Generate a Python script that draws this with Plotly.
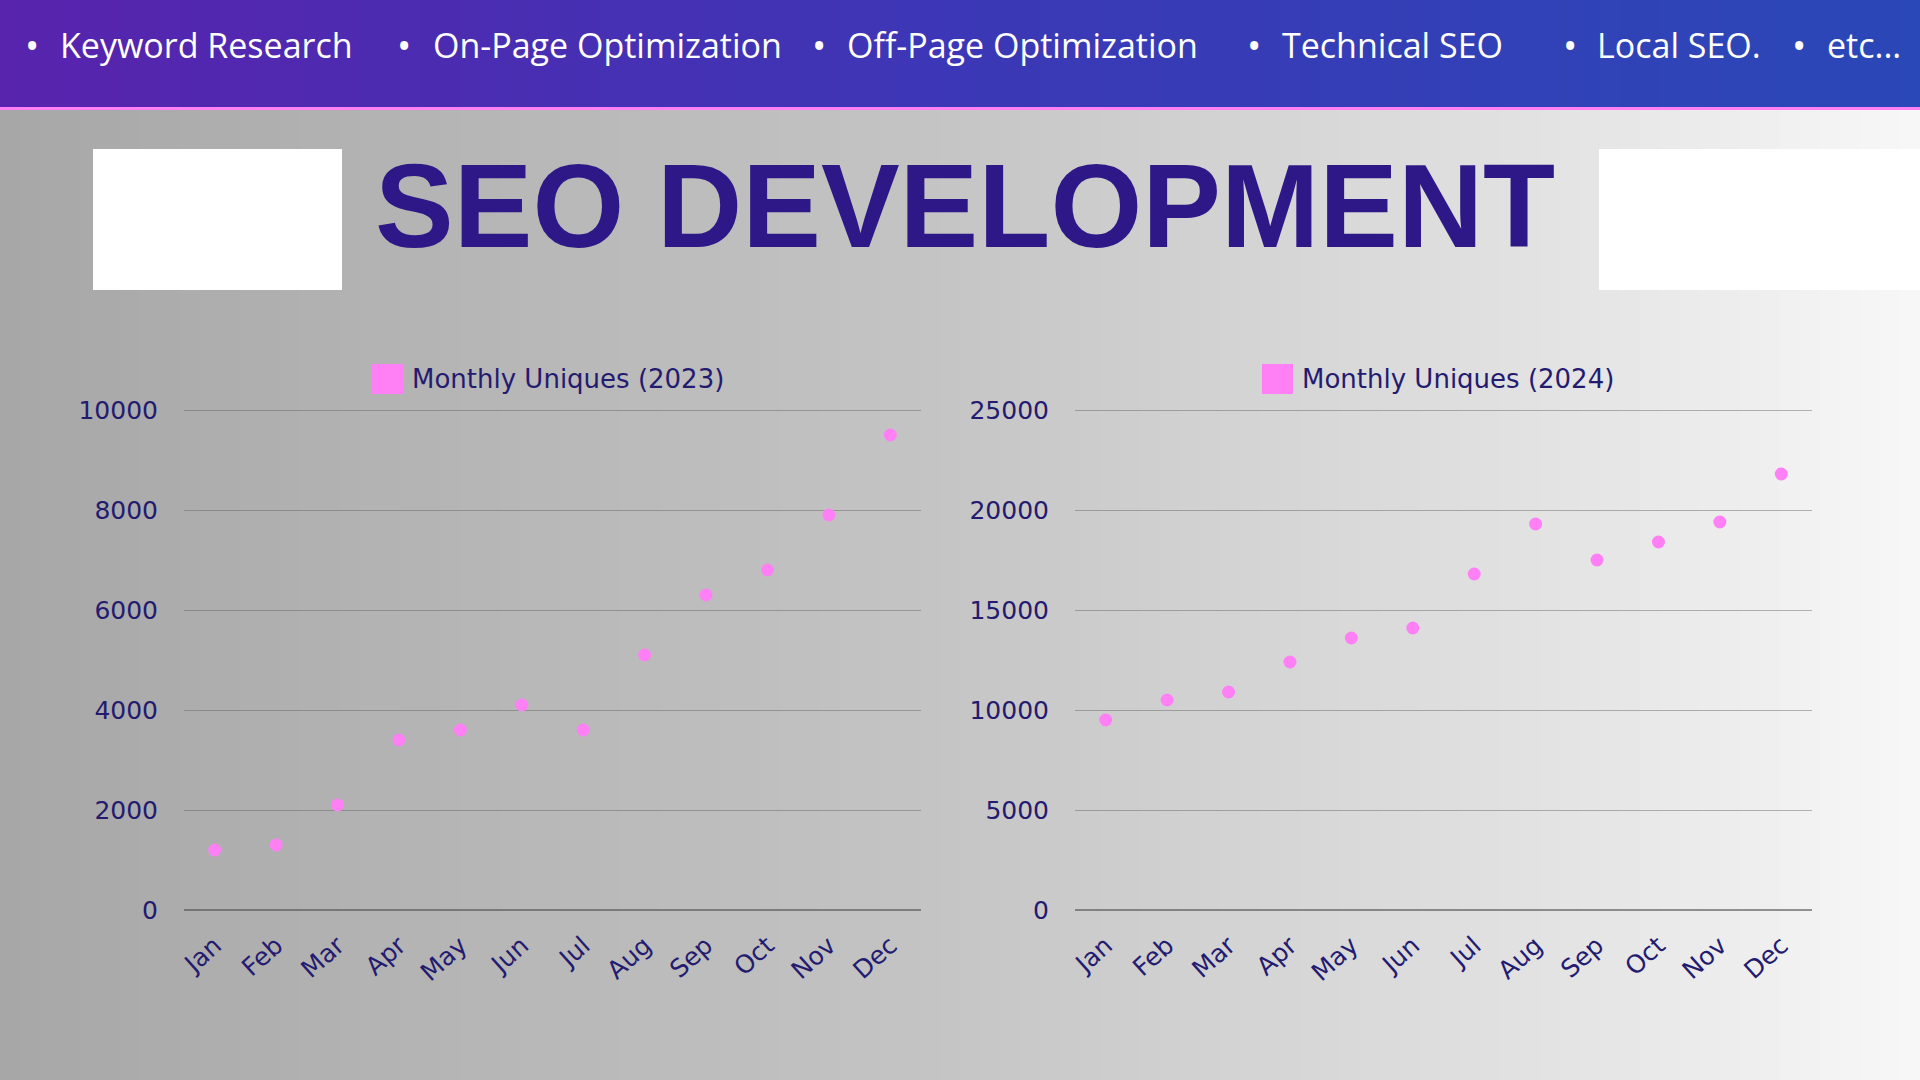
import plotly.graph_objects as go

# ---------------- data ----------------
months = ["Jan", "Feb", "Mar", "Apr", "May", "Jun", "Jul", "Aug", "Sep", "Oct", "Nov", "Dec"]
uniques_2023 = [1200, 1300, 2100, 3400, 3600, 4100, 3600, 5100, 6300, 6800, 7900, 9500]
uniques_2024 = [9500, 10500, 10900, 12400, 13600, 14100, 16800, 19300, 17500, 18400, 19400, 21800]
y_ticks_2023 = [0, 2000, 4000, 6000, 8000, 10000]
y_ticks_2024 = [0, 5000, 10000, 15000, 20000, 25000]
series_names = ["Monthly Uniques (2023)", "Monthly Uniques (2024)"]
header_items = ["Keyword Research", "On-Page Optimization", "Off-Page Optimization",
                "Technical SEO", "Local SEO.", "etc..."]
title_text = "SEO DEVELOPMENT"

# ---------------- style ----------------
W, H = 1920, 1080
PINK = "#ff80f5"
NAVY = "#241b70"
TITLE_COLOR = "#2e1786"
GRID = "rgba(95,95,95,0.45)"
ZERO = "rgba(80,80,80,0.6)"
CHART_FONT = "DejaVu Sans"
TICK_FONT = dict(family=CHART_FONT, size=25, color=NAVY)


def px_x(v):
    return v / W


def px_y(v):
    return 1 - v / H


def hex_to_rgb(h):
    h = h.lstrip("#")
    return tuple(int(h[i:i + 2], 16) for i in (0, 2, 4))


def grad(stops, t):
    for (t0, c0), (t1, c1) in zip(stops, stops[1:]):
        if t0 <= t <= t1:
            f = (t - t0) / (t1 - t0) if t1 > t0 else 0
            a, b = hex_to_rgb(c0), hex_to_rgb(c1)
            return "rgb(%d,%d,%d)" % tuple(round(a[i] + (b[i] - a[i]) * f) for i in range(3))
    return stops[-1][1]


shapes = []
# background brushed-metal style gradient
bg_stops = [(0, "#a7a7a7"), (0.5, "#c5c5c5"), (0.8, "#e2e2e2"), (1.0, "#f8f8f8")]
N = 96
for i in range(N):
    shapes.append(dict(type="rect", xref="paper", yref="paper", layer="below",
                       x0=i / N, x1=(i + 1) / N + 0.002, y0=0, y1=px_y(107),
                       fillcolor=grad(bg_stops, (i + 0.5) / N), line=dict(width=0)))
# header gradient
hd_stops = [(0, "#5823ad"), (0.5, "#3c37b6"), (1.0, "#2a48b7")]
for i in range(N):
    shapes.append(dict(type="rect", xref="paper", yref="paper", layer="below",
                       x0=i / N, x1=(i + 1) / N + 0.002, y0=px_y(107), y1=1,
                       fillcolor=grad(hd_stops, (i + 0.5) / N), line=dict(width=0)))
# pink rule under header
shapes.append(dict(type="rect", xref="paper", yref="paper", layer="below",
                   x0=0, x1=1, y0=px_y(110), y1=px_y(107),
                   fillcolor=PINK, line=dict(width=0)))
# white boxes beside the title
shapes.append(dict(type="rect", xref="paper", yref="paper", layer="below",
                   x0=px_x(93), x1=px_x(342), y0=px_y(290), y1=px_y(149),
                   fillcolor="white", line=dict(width=0)))
shapes.append(dict(type="rect", xref="paper", yref="paper", layer="below",
                   x0=px_x(1599), x1=1, y0=px_y(290), y1=px_y(149),
                   fillcolor="white", line=dict(width=0)))
# legend swatches
for sx in (372, 1262):
    shapes.append(dict(type="rect", xref="paper", yref="paper",
                       x0=px_x(sx), x1=px_x(sx + 31), y0=px_y(394), y1=px_y(364),
                       fillcolor=PINK, line=dict(width=0)))

annotations = []
bullet_x = [32, 404, 819, 1254, 1570, 1799]
text_x = [58, 431, 845, 1280, 1595, 1825]
for bx, tx, item in zip(bullet_x, text_x, header_items):
    annotations.append(dict(text="•", x=px_x(bx), y=px_y(45), xref="paper", yref="paper",
                            xanchor="center", yanchor="middle", showarrow=False,
                            font=dict(family="Open Sans", size=38, color="white")))
    annotations.append(dict(text=item, x=px_x(tx), y=px_y(45), xref="paper", yref="paper",
                            xanchor="left", yanchor="middle", showarrow=False,
                            font=dict(family="Open Sans", size=34, color="white")))

annotations.append(dict(text=title_text, x=px_x(965), y=px_y(206), xref="paper", yref="paper",
                        xanchor="center", yanchor="middle", showarrow=False,
                        font=dict(family="Liberation Sans", size=118, color=TITLE_COLOR,
                                  weight="bold")))

for lx, name in zip((410, 1300), series_names):
    annotations.append(dict(text=name, x=px_x(lx), y=px_y(379), xref="paper", yref="paper",
                            xanchor="left", yanchor="middle", showarrow=False,
                            font=dict(family=CHART_FONT, size=26, color=NAVY)))

fig = go.Figure()
fig.add_trace(go.Scatter(x=months, y=uniques_2023, mode="markers", name=series_names[0],
                         marker=dict(color=PINK, size=13), xaxis="x", yaxis="y",
                         showlegend=False))
fig.add_trace(go.Scatter(x=months, y=uniques_2024, mode="markers", name=series_names[1],
                         marker=dict(color=PINK, size=13), xaxis="x2", yaxis="y2",
                         showlegend=False))

# top of range a hair above the last tick so its gridline is drawn
PAD = 0.004
ydom = [px_y(910), px_y(410 - 500 * PAD)]
xcommon = dict(type="category", range=[-0.5, 11.5], showgrid=False, zeroline=False,
               showline=False, tickangle=-42, tickfont=TICK_FONT, ticks="outside",
               ticklen=10, tickcolor="rgba(0,0,0,0)", automargin=False)
ycommon = dict(showgrid=True, gridcolor=GRID, gridwidth=1, zeroline=True, zerolinecolor=ZERO,
               zerolinewidth=2, showline=False, tickfont=TICK_FONT, ticks="outside",
               ticklen=20, tickcolor="rgba(0,0,0,0)", tickformat="d", automargin=False)

fig.update_layout(
    template="none",
    width=W, height=H,
    margin=dict(l=0, r=0, t=0, b=0, pad=0, autoexpand=False),
    paper_bgcolor="#c5c5c5",
    plot_bgcolor="rgba(0,0,0,0)",
    showlegend=False,
    shapes=shapes,
    annotations=annotations,
    xaxis=dict(domain=[px_x(184), px_x(921)], anchor="y", **xcommon),
    yaxis=dict(domain=ydom, anchor="x", range=[0, max(y_ticks_2023) * (1 + PAD)],
               tickvals=y_ticks_2023, **ycommon),
    xaxis2=dict(domain=[px_x(1075), px_x(1812)], anchor="y2", **xcommon),
    yaxis2=dict(domain=ydom, anchor="x2", range=[0, max(y_ticks_2024) * (1 + PAD)],
                tickvals=y_ticks_2024, **ycommon),
)

post = ("document.body.style.margin='0';document.body.style.padding='0';"
        "document.body.style.overflow='hidden';")

fig.write_html("out.html", config={"displayModeBar": False}, post_script=post)
